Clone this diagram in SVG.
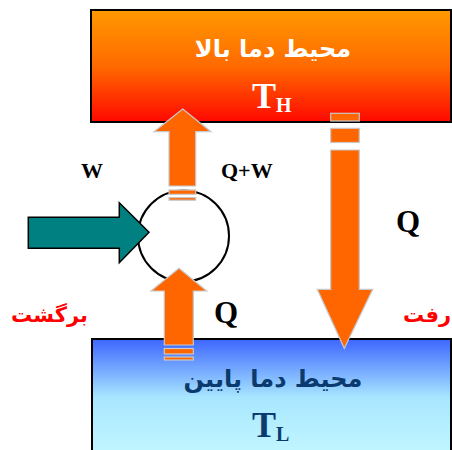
<svg xmlns="http://www.w3.org/2000/svg" width="452" height="450" viewBox="0 0 452 450">
<defs>
<linearGradient id="gHot" x1="0" y1="0" x2="0" y2="1">
<stop offset="0" stop-color="#FF9900"/>
<stop offset="0.5" stop-color="#FF6A00"/>
<stop offset="1" stop-color="#FF0800"/>
</linearGradient>
<linearGradient id="gCold" x1="0" y1="0" x2="0" y2="1">
<stop offset="0" stop-color="#3D66FF"/>
<stop offset="0.45" stop-color="#A8E6FF"/>
<stop offset="1" stop-color="#C8FBFF"/>
</linearGradient>
<style>
.box{stroke:#000;stroke-width:2}
.fa{font-family:"DejaVu Sans",sans-serif;font-weight:bold;text-anchor:middle}
.sym{font-family:"Liberation Serif","Times New Roman",serif;font-weight:bold}
.or{fill:#FF6600;stroke:#C8C8C8;stroke-width:1.2}
</style>
</defs>
<rect width="452" height="450" fill="#fff"/>

<g id="hot-reservoir">
<rect class="box" x="91" y="10" width="360" height="112" fill="url(#gHot)"/>
<text class="fa" x="273" y="57" font-size="24" fill="#fff">محیط دما بالا</text>
<text class="sym" x="252" y="108" font-size="36" fill="#fff">T<tspan font-size="20" dy="4">H</tspan></text>
</g>

<g id="cold-reservoir">
<rect class="box" x="92" y="339" width="359" height="130" fill="url(#gCold)"/>
<text class="fa" x="273" y="387" font-size="24" fill="#0B3A6E">محیط دما پایین</text>
<text class="sym" x="252" y="437" font-size="36" fill="#0B3A6E">T<tspan font-size="20" dy="4">L</tspan></text>
</g>

<g id="engine">
<circle cx="183.5" cy="236" r="45.5" fill="#fff" stroke="#000" stroke-width="2"/>
</g>

<g id="connectors">
<g id="arrow-out">
<polygon class="or" points="182.7,109 211,131.7 195.7,131.7 195.7,186 169,186 169,131.7 154,131.7"/>
<rect class="or" x="169" y="190" width="26.7" height="4.3"/>
<rect class="or" x="169" y="197.6" width="26.7" height="2.6"/>
</g>
<g id="arrow-in">
<polygon class="or" points="179,268.3 206.7,291 193.3,291 193.3,345 164.3,345 164.3,291 151,291"/>
<rect class="or" x="164.3" y="348.5" width="29" height="5.5"/>
<rect class="or" x="164.3" y="357" width="29" height="3"/>
</g>
<g id="arrow-down">
<rect class="or" x="330.7" y="113.3" width="28.6" height="7.7"/>
<rect class="or" x="330.7" y="128.3" width="28.6" height="14.2"/>
<polygon class="or" points="330.7,150 359.3,150 359.3,289.3 372.7,289.3 344.3,348.3 317.3,289.3 330.7,289.3"/>
</g>
<g id="arrow-work">
<polygon points="28.3,217.3 119.3,217.3 119.3,202.7 149,232.3 119.3,262.7 119.3,248.3 28.3,248.3" fill="#008080" stroke="#000" stroke-width="1.5"/>
</g>
</g>

<g id="labels">
<text class="sym" x="81" y="178" font-size="22" fill="#000">W</text>
<text class="sym" x="221" y="178" font-size="22" fill="#000">Q+W</text>
<text class="sym" x="396" y="232" font-size="31" fill="#000">Q</text>
<text class="sym" x="214" y="323" font-size="31" fill="#000">Q</text>
<text class="fa" x="49.5" y="322" font-size="21" fill="#FF0000">برگشت</text>
<text class="fa" x="427" y="322" font-size="21" fill="#FF0000">رفت</text>
</g>
</svg>
